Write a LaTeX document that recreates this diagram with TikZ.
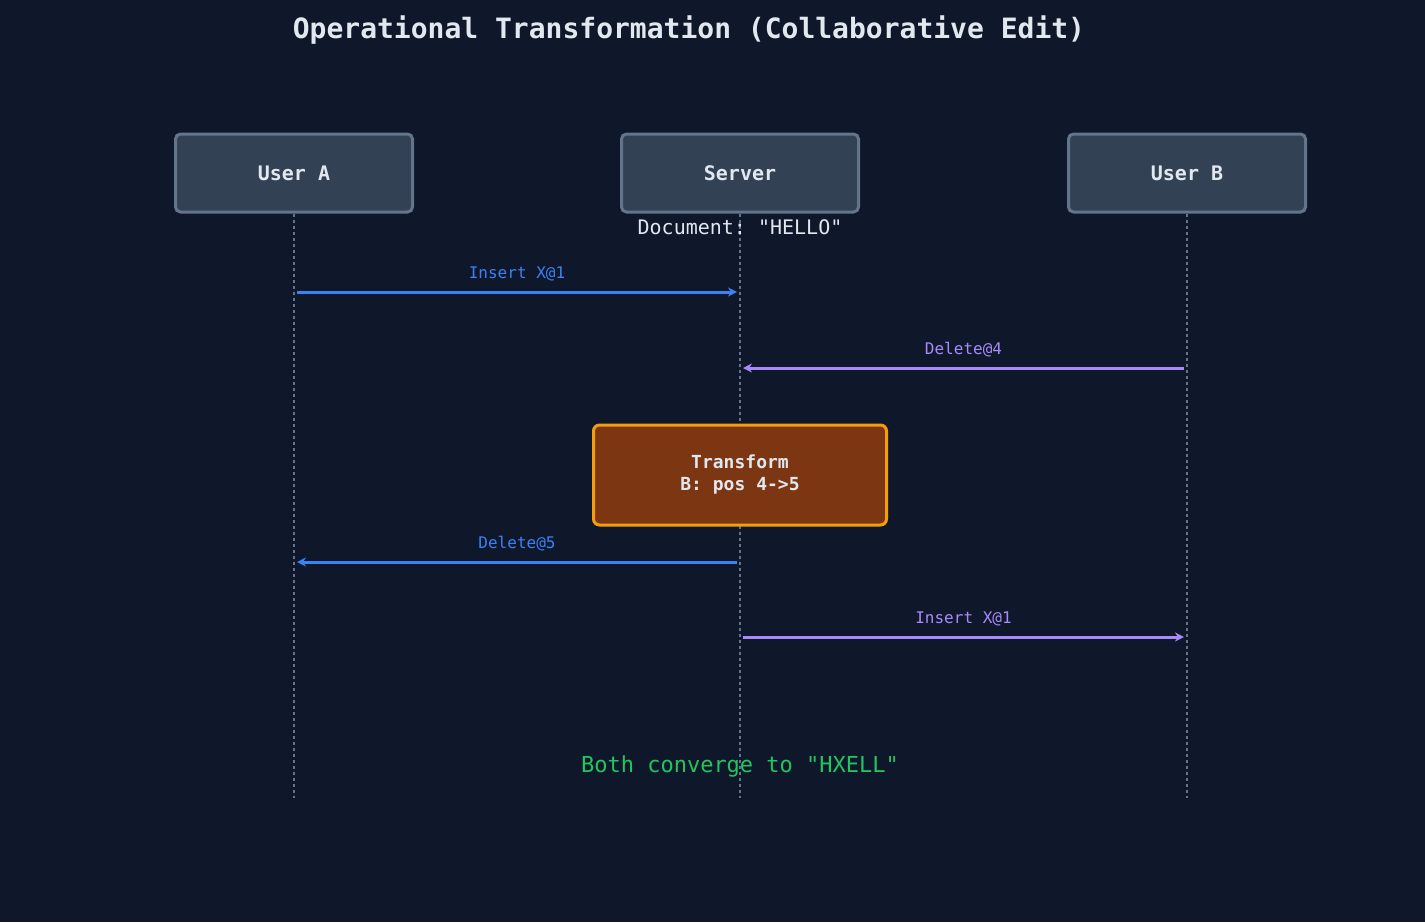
\documentclass[tikz,border=0pt]{standalone}
\usepackage{fontspec}
\setmonofont{DejaVu Sans Mono}
\usetikzlibrary{arrows.meta, positioning}
\definecolor{bgc}{HTML}{0F172A}
\definecolor{boxc}{HTML}{334155}
\definecolor{edgec}{HTML}{64748B}
\definecolor{txtc}{HTML}{E2E8F0}
\definecolor{bluec}{HTML}{3B82F6}
\definecolor{purpc}{HTML}{A78BFA}
\definecolor{orfill}{HTML}{7C3712}
\definecolor{oredge}{HTML}{F59E0B}
\definecolor{greenc}{HTML}{22C55E}
\tikzset{
  actor/.style={draw=edgec, fill=boxc, line width=3pt, rounded corners=5pt,
    minimum width=237pt, minimum height=78pt, text=txtc,
    font=\ttfamily\bfseries\fontsize{20}{24}\selectfont},
  life/.style={edgec, dashed, line width=1.5pt},
  msg/.style={line width=3pt, -{Stealth[length=9pt,width=9pt]}},
  lbl/.style={font=\ttfamily\fontsize{16}{19}\selectfont}
}
\begin{document}
\begin{tikzpicture}[x=1pt, y=-1pt]
  \fill[bgc] (0,0) rectangle (1425,922);
  \node[text=txtc, font=\ttfamily\bfseries\fontsize{28}{32}\selectfont] (title) at (689,30) {Operational Transformation (Collaborative Edit)};

  \node[actor] (usera) at (294,173) {User A};
  \node[actor] (server) at (740,173) {Server};
  \node[actor] (userb) at (1187,173) {User B};

  \coordinate (aend) at (294,798);
  \coordinate (send) at (740,798);
  \coordinate (bend) at (1187,798);
  \draw[life] (usera.south) -- (aend);
  \draw[life] (server.south) -- (send);
  \draw[life] (userb.south) -- (bend);

  \node[text=txtc, font=\ttfamily\fontsize{20}{24}\selectfont] (doc) at (740,227) {Document: "HELLO"};

  %messages
  \coordinate (a1) at (297,292); \coordinate (s1) at (737,292);
  \draw[msg, bluec] (a1) -- (s1) node[midway, above=6pt, lbl] {Insert X@1};
  \coordinate (b2) at (1184,368); \coordinate (s2) at (743,368);
  \draw[msg, purpc] (b2) -- (s2) node[midway, above=6pt, lbl] {Delete@4};

  \node[draw=oredge, fill=orfill, line width=3pt, rounded corners=6pt,
    minimum width=293pt, minimum height=100pt, text=txtc, align=center,
    font=\ttfamily\bfseries\fontsize{18}{22}\selectfont] (transform) at (740,475) {Transform\\B: pos 4->5};

  \coordinate (s3) at (737,562); \coordinate (a3) at (297,562);
  \draw[msg, bluec] (s3) -- (a3) node[midway, above=6pt, lbl] {Delete@5};
  \coordinate (s4) at (743,637); \coordinate (b4) at (1184,637);
  \draw[msg, purpc] (s4) -- (b4) node[midway, above=6pt, lbl] {Insert X@1};

  \node[text=greenc, font=\ttfamily\fontsize{22}{26}\selectfont] (result) at (740,766) {Both converge to "HXELL"};
\end{tikzpicture}
\end{document}
